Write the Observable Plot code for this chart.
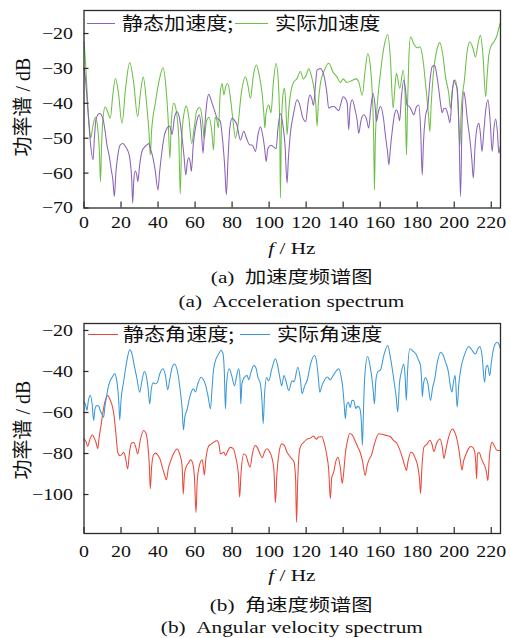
<!DOCTYPE html>
<html>
<head>
<meta charset="utf-8">
<script src="https://cdn.jsdelivr.net/npm/d3@7"></script>
<script src="https://cdn.jsdelivr.net/npm/@observablehq/plot@0.6"></script>
<style>
  html, body { margin: 0; padding: 0; background: #fff; }
  #wrap { position: relative; width: 511px; height: 638px; overflow: hidden; background: #fff;
          font-family: 'Liberation Serif', 'Noto Sans CJK SC', serif; color: #111; }
  .abs { position: absolute; }
  .cap { position: absolute; left: 91.5px; width: 400px; text-align: center; font-size: 17px; line-height: 20px; white-space: nowrap; }
  .cap span { display: inline-block; transform: scaleX(1.25); transform-origin: center; }
  .ylab { position: absolute; width: 140px; height: 24px; line-height: 24px; text-align: center; font-size: 20px; white-space: nowrap;
          transform: rotate(-90deg); transform-origin: center; }
  .leg-line { position: absolute; height: 0; border-top: 1.5px solid; }
  .leg-text { position: absolute; font-size: 18px; line-height: 24px; height: 24px; white-space: nowrap;
              font-family: 'Noto Sans CJK SC', sans-serif; transform: scaleX(1.17); transform-origin: left center; }
</style>
</head>
<body>
<div id="wrap">
  <div id="chartA" class="abs" style="left:0;top:0"></div>
  <div id="chartB" class="abs" style="left:0;top:313px"></div>
</div>
<script>
// ---------- data (frequency Hz, power dB) ----------
const accelActual = [[0,-22.4],[0.8,-28],[1.8,-38],[2.8,-46],[3.6,-50],[4.8,-46.5],[6.2,-44],[7.4,-47],[8.4,-55],[8.9,-62.5],[9.5,-52],[10.3,-44],[11.5,-41],[12.8,-42.5],[14.2,-44.3],[15.5,-38],[17,-32.9],[18.6,-37],[20.5,-45.7],[22.6,-35],[24.7,-28.3],[26.8,-34],[29,-43.8],[30.5,-37],[32,-32.5],[33.8,-40],[35.3,-50],[35.8,-54.8],[36.5,-48],[38.5,-40],[40.8,-33],[42.7,-29.8],[44.2,-35],[45.4,-44],[46.4,-55.7],[47.2,-45],[48.5,-40],[49.8,-42],[51.2,-50],[52,-66],[52.8,-50],[54,-43],[55.3,-40.8],[56.6,-44],[58.2,-51.5],[59.5,-47],[61,-42],[62.5,-41.2],[63.8,-44],[65,-50],[66.2,-45],[67.6,-44],[69,-48],[70,-53.4],[70.8,-44],[71.8,-45],[72.6,-47],[73.6,-37],[74.6,-34.3],[75.6,-37.6],[76.6,-35],[77.6,-34.3],[79,-38],[80.5,-45],[81.8,-50],[83,-47],[85,-37],[87.2,-32.4],[88.6,-35],[89.9,-38.6],[91.5,-32],[93.1,-29],[94.7,-32],[96.2,-37.1],[97.3,-44],[97.7,-47.1],[98.3,-43],[99.8,-40.5],[101,-42.7],[102.3,-34],[103.8,-28.6],[105,-34],[105.7,-45],[106.1,-67.1],[106.6,-48],[107.4,-38],[108.3,-35.7],[109,-40],[109.7,-49],[110.6,-42],[112,-36],[113.3,-33.9],[115,-33],[116.9,-30.9],[118.5,-33],[120,-32],[121.4,-30.1],[122.8,-32],[124,-35],[125.2,-40],[125.9,-46.5],[126.6,-40],[127.8,-34],[129.5,-31],[132.2,-28.5],[134.5,-31],[136.7,-32.5],[138.5,-34],[140,-33],[142,-34],[144.5,-33.5],[147,-33],[148.5,-34],[150.3,-37.7],[151.8,-31],[153.3,-25.7],[154.8,-30],[155.7,-36.7],[156.5,-50],[156.9,-64.8],[157.4,-50],[158.5,-40],[160,-32],[162,-24],[164.1,-20.3],[165.5,-27],[167,-41.4],[168,-35],[168.8,-31.4],[170.6,-35.7],[172.4,-30.5],[173.6,-40],[174.2,-54.8],[174.8,-40],[175.5,-27],[176.4,-21],[178.2,-23],[180,-24.1],[181.5,-23.8],[183,-27],[184.5,-34.3],[186.2,-44],[186.8,-48.1],[187.6,-40],[189,-30],[190.5,-25],[192.2,-22.6],[193.8,-26],[195.3,-32.4],[197,-37],[198,-41.4],[199,-36],[200.7,-33.3],[202.2,-42],[203,-52.4],[203.8,-42],[205.6,-32.9],[207,-25],[208.4,-22.4],[210,-24],[211.5,-26.7],[213,-22.5],[214.2,-20.5],[215.5,-26],[217,-38.1],[217.8,-32],[218.7,-26.2],[220,-23.5],[221.4,-22.4],[222.8,-21],[224.7,-17.1]];

const accelStatic = [[0,-30],[0.8,-33],[1.8,-40],[2.8,-47],[3.6,-52],[4.9,-56.2],[5.6,-50],[6.6,-44.3],[8.4,-42.9],[10.2,-44.3],[11.4,-48],[12.4,-51.9],[13.6,-55],[14.6,-58.6],[15.6,-62],[16.4,-66.7],[17.2,-60],[18.2,-55.2],[19.6,-51.9],[21,-51.5],[22.3,-52.3],[23.6,-53.5],[24.8,-56],[25.8,-62],[26.3,-68.6],[26.9,-62],[27.7,-59.4],[28.5,-60.5],[29.1,-62.4],[30,-58],[31.3,-53.8],[32.8,-52.5],[34,-51.9],[35,-51.5],[35.8,-52.9],[37,-55],[38.4,-59],[40,-64.8],[40.8,-60],[42.1,-53.8],[43.5,-49],[44.9,-47.1],[46.3,-46.5],[47.6,-48.9],[48.9,-44],[50.3,-42.4],[51.5,-44],[52.8,-49],[54,-55],[55,-60.5],[55.8,-57],[56.6,-55.6],[57.4,-57],[58,-59.5],[59,-52],[60.2,-47.1],[61.2,-44.5],[62.3,-43.3],[63.3,-47],[64.3,-54.3],[65.2,-47],[66.3,-40],[67.4,-37.4],[68.3,-38.5],[69.2,-40],[70.5,-42],[71.9,-44.3],[73.5,-45],[74.8,-50],[76,-58],[76.9,-66.2],[77.8,-56],[78.8,-47],[80,-44.3],[81.2,-44.8],[82.5,-46],[84.5,-50.5],[86.3,-48],[87.8,-50],[89.5,-51.9],[91,-52],[92.6,-53.8],[94,-49],[95.3,-46.7],[96.5,-49],[97.6,-53],[98.4,-56.7],[99.3,-53],[101,-52],[102.4,-52.5],[103.8,-53],[104.8,-47],[106.1,-42.9],[107.4,-46],[108.6,-52],[109.7,-62.9],[110.4,-56],[111.4,-49.1],[113.2,-43],[115.1,-39],[116.6,-40.5],[118,-43.8],[119.8,-45.2],[121,-40],[122,-37.6],[123,-38.5],[124,-40.6],[125,-35],[125.9,-30.5],[127.7,-30],[129,-31],[130,-32.9],[131.2,-37],[132.2,-41.4],[133.6,-41],[135,-40.9],[136.3,-41.5],[137.6,-42.1],[138.8,-40],[140,-38.1],[141.2,-38.6],[142.2,-40],[143,-47.6],[143.8,-41],[144.9,-39],[146.5,-42],[147.6,-45],[148.4,-48.6],[149.6,-45],[151.1,-43.3],[152.6,-44.5],[153.8,-47.1],[155,-41],[156.2,-37.1],[157.2,-40.5],[158,-45.2],[159.2,-42],[160.2,-40.9],[161.7,-44],[162.9,-49.5],[164,-54],[164.7,-57.6],[165.5,-53],[166.5,-48],[167.8,-43],[168.8,-41.9],[169.7,-43],[170.5,-45],[171.5,-38],[172.8,-33.3],[173.7,-36],[174.5,-40.6],[175.5,-40.8],[176.4,-41.4],[177.3,-42.5],[178.2,-43.3],[179.6,-41],[180.9,-40.5],[181.9,-48],[182.7,-60.5],[183.4,-51],[184.4,-44],[185.8,-40.6],[187,-33],[188.1,-29.5],[189.5,-29.2],[190.6,-32],[191.7,-36.2],[192.6,-40],[193.5,-42.7],[194.4,-41.5],[195.3,-41.4],[196.5,-43],[197.7,-45.6],[198.8,-38],[199.8,-33.3],[200.8,-34.5],[201.6,-35.7],[202.6,-48],[203.4,-66.7],[204.2,-46],[205.2,-36.7],[206,-39],[207,-44.3],[208.4,-50],[209.5,-56],[210.3,-61.4],[211.3,-52],[212.3,-47],[213.3,-45.7],[214.2,-49],[215,-53.8],[216,-48],[217,-42],[218.2,-39],[219.4,-45],[220.5,-53.8],[221.5,-47],[222.4,-44.5],[223.3,-48],[224.1,-54.3],[225,-52]];

const angActual = [[0,-55],[0.8,-56],[1.6,-59],[2.4,-54],[3.4,-51.7],[4.4,-56],[5.2,-63.9],[6,-58],[7,-56.6],[8,-57],[8.8,-59],[9.8,-61],[10.6,-62.3],[11.3,-57],[12,-53.3],[13,-48],[14.2,-44.4],[15.4,-42.5],[16.6,-41.1],[17.4,-43],[18.2,-48],[18.8,-55],[19.3,-63.6],[20,-54],[21.4,-45],[23.2,-34.6],[24.7,-29.4],[25.8,-31],[26.9,-36],[28.5,-43],[30.1,-50.1],[31.2,-45],[32.6,-40],[33.6,-42],[34.6,-48],[35.5,-55.8],[36.3,-49],[37.3,-45.5],[38.5,-46],[39.5,-45.5],[41,-41],[42.7,-38.7],[44,-42],[45.2,-48.9],[46.3,-44],[47.6,-38],[48.9,-36.3],[50.5,-40],[52,-49.3],[53,-58],[53.7,-68.5],[54.5,-62],[55.6,-59],[57,-53],[58.3,-49.3],[59.2,-48.4],[60.2,-50],[61.5,-46],[63.2,-42.8],[64.5,-44],[65.5,-46],[67,-52],[68.3,-58.2],[69.2,-48],[70,-39],[71.5,-33.5],[72.8,-31.4],[74,-29.6],[75,-31],[75.8,-40],[76.4,-58.2],[77,-46],[78.4,-38.7],[79.8,-42],[81.3,-47],[82.5,-42],[83.6,-38.7],[84.3,-44],[84.7,-55.8],[85.3,-46],[86.5,-43],[88.1,-42],[89,-44],[90.3,-40],[91.7,-37.1],[92.8,-38],[94,-43],[95.3,-46],[96.2,-55],[96.8,-65.5],[97.5,-52],[98.6,-43],[99.8,-44.5],[101.4,-39],[103.4,-33.8],[104.6,-37],[105.8,-43],[106.8,-47],[108,-42],[109.2,-45],[110.6,-49.3],[112.4,-44.5],[113.5,-45],[115.5,-37.9],[116.8,-43],[117.8,-50.8],[119.2,-47],[120.5,-44.5],[122.5,-36],[124.5,-32.2],[125.6,-35],[126.5,-42],[127.4,-50.1],[128.5,-47],[130,-44],[131.5,-42.7],[133,-44],[134.6,-42],[136,-40],[137.6,-38.7],[138.8,-42],[139.8,-48],[140.6,-56.6],[141.2,-63],[141.8,-57],[142.8,-55],[143.8,-57.5],[144.8,-54],[145.7,-54.1],[146.8,-58],[147.8,-57],[149,-58],[149.8,-64],[150.4,-76],[151,-58],[151.7,-42],[153.2,-32.7],[154.5,-37],[155.7,-44.5],[156.3,-50],[156.9,-55.8],[157.7,-44],[158.8,-40],[160.2,-39.2],[162,-32],[164.1,-27.3],[165.5,-33],[166.9,-41],[167.8,-46.8],[168.6,-52],[169.5,-59.8],[170.4,-46],[171.5,-40],[172.8,-36.3],[173.5,-43],[174.1,-54.1],[174.8,-40],[176,-28.9],[177.6,-30],[179.3,-31.5],[180.5,-34],[181.8,-37.1],[182.4,-45],[182.8,-52.3],[183.4,-46],[184.5,-43],[185.8,-46],[187.2,-54.1],[188.3,-48],[189.3,-44.4],[191,-35],[192.6,-30.6],[194,-32],[195.3,-35.4],[196.8,-40],[198,-47.6],[198.8,-50],[199.6,-45.2],[200.5,-42],[201.6,-57.4],[202.5,-46],[203.5,-39],[205.5,-32],[207.9,-27.8],[209.5,-29.5],[211.5,-31.5],[212.7,-29],[213.8,-27.8],[215,-32],[216.4,-45.2],[217.2,-38],[218,-37],[219.2,-42],[220,-36],[221.5,-28],[223.2,-25.7],[224,-26.5],[225,-28.9]];

const angStatic = [[0,-72.8],[1,-74],[2,-76.5],[3.2,-73],[4.6,-71],[5.6,-72.5],[6.6,-75],[7.4,-77.7],[8.2,-72],[9.2,-66.3],[10.4,-59],[11.5,-54.1],[12.8,-51.7],[14,-53.5],[15.4,-57.3],[16.3,-62],[16.9,-67.2],[17.6,-74],[18.2,-79.4],[19.3,-81],[20.4,-80.5],[21.4,-79.4],[22.4,-82],[23.6,-87.5],[24.5,-80],[25.6,-75],[26.9,-74.6],[28,-77],[29,-80.2],[30.5,-73],[32.2,-68.8],[33.4,-70],[34.5,-76],[35.3,-86],[35.8,-97.2],[36.5,-87],[37.6,-80.5],[38.8,-79.8],[40,-81],[41.2,-83],[42.1,-86],[43.4,-90],[44.5,-92.8],[45.6,-87],[46.8,-83.7],[48.4,-80],[50.3,-77.8],[51.6,-80],[53,-86],[53.6,-99.8],[54.3,-90],[55.4,-86],[56.5,-84.6],[57.6,-83],[58.8,-85],[59.7,-92],[60.5,-108.8],[61.2,-93],[62.3,-86],[63.8,-83],[64.4,-86],[65,-90.5],[65.8,-83],[67.3,-76.5],[68.5,-75.5],[70,-74.5],[71.9,-73.8],[73,-76],[73.7,-80.2],[75.5,-79.4],[76.5,-81],[77.5,-79],[79,-77],[80.5,-77.5],[82,-82],[83.4,-90],[84.1,-101.3],[84.8,-90],[86.3,-80.2],[87.5,-81],[88.5,-84],[89.7,-86.7],[91,-80],[92.4,-76.1],[93.6,-77],[95,-80],[96.3,-82],[97.6,-79],[98.9,-77.7],[100.2,-79],[101.5,-82],[102.6,-88],[103.4,-104],[104.2,-90],[105.3,-80],[106.8,-75.3],[108.2,-76],[109.5,-79],[110.8,-81],[112.2,-82.5],[113.4,-84],[114.3,-92],[114.8,-113.5],[115.4,-95],[116.2,-80],[117,-76.5],[118.7,-74.5],[120.5,-73],[122.3,-72.5],[124,-71.5],[125.5,-73],[126.7,-72],[128.5,-71.8],[129.8,-75],[131,-80],[132.2,-88],[133.1,-102],[133.8,-92],[134.9,-89],[136,-84],[137.2,-81.8],[138.5,-87],[139.5,-94.5],[140.2,-90],[141.2,-80],[142.5,-73],[143.6,-70.2],[145,-71],[146.5,-74],[148,-77],[149.4,-80],[150.5,-84],[151.9,-90.7],[152.9,-86],[154,-83],[155.3,-80.8],[157,-75],[159.2,-70.4],[161,-70.6],[163.5,-71.2],[165.5,-71.8],[167.3,-73.7],[169,-75],[170.5,-78],[172,-82],[173.3,-86],[174.2,-88.3],[175,-84],[176.7,-79.4],[177.8,-80],[178.8,-82],[180,-85],[181.2,-92],[181.8,-99.5],[182.6,-86],[183.6,-77],[185.2,-75.5],[186.8,-73.5],[188,-75.5],[189,-79],[190.5,-75],[192.2,-72.9],[193.6,-77],[194.4,-82.4],[195.5,-78],[197,-72],[198.9,-68],[200,-69],[201.2,-72],[202.5,-78],[203.4,-84],[204.2,-88],[205,-84],[206.5,-80],[207.8,-77.5],[208.8,-76.6],[210,-77],[211,-79],[211.6,-84],[212.1,-92.3],[212.6,-80],[213.5,-79.5],[214.5,-82],[215.5,-84.3],[216.5,-86],[217.4,-89],[218.2,-93.2],[218.9,-83],[219.6,-76.9],[220.5,-74.5],[221.5,-76],[223.2,-78.5],[225,-78.5]];

const xTicks = [0, 20, 40, 60, 80, 100, 120, 140, 160, 180, 200, 220];
const yTicksA = [-70, -60, -50, -40, -30, -20];
const yTicksB = [-100, -80, -60, -40, -20];
const legendA = ["静态加速度;", "实际加速度"];
const legendB = ["静态角速度;", "实际角速度"];
const yLabel = "功率谱 / dB";
const captionsA = ["(a)\u00a0\u00a0加速度频谱图", "(a)\u00a0\u00a0Acceleration spectrum"];
const captionsB = ["(b)\u00a0\u00a0角速度频谱图", "(b)\u00a0\u00a0Angular velocity spectrum"];
const colors = {purple: "#8a62b8", green: "#6bbf45", red: "#e9483a", blue: "#3a98d8"};

const FONT = "'Liberation Serif', serif";
const INK = "#2a2a2a";

function stretchText(svg, s) {
  svg.querySelectorAll("text").forEach(t => {
    const tr = t.getAttribute("transform") || "";
    const x = +(t.getAttribute("x") || 0);
    t.setAttribute("transform", `${tr} translate(${x},0) scale(${s},1) translate(${-x},0)`);
  });
}

function panel({series, yDomain, yTicks, height, marginBottom, xPad}) {
  const svg = Plot.plot({
    width: 511,
    height,
    marginLeft: 83.5,
    marginRight: 11,
    marginTop: 10,
    marginBottom,
    style: {fontFamily: FONT, fontSize: "17px", background: "#fff", color: "#111", overflow: "visible"},
    x: {domain: [0, 225], axis: null},
    y: {domain: yDomain, axis: null},
    marks: [
      ...series.map(s => Plot.line(s.data, {x: d => d[0], y: d => d[1], stroke: s.color, strokeWidth: 1.05, curve: "monotone-x"})),
      Plot.frame({stroke: INK, strokeWidth: 1.3}),
      Plot.axisX(xTicks, {tickSize: 6, dy: -6, fill: "none", stroke: INK, strokeWidth: 1.2}),
      Plot.axisX(xTicks, {tickSize: 0, tickPadding: xPad, label: null, fill: "#111"}),
      Plot.axisY(yTicks, {tickSize: 5, dx: 5, fill: "none", stroke: INK, strokeWidth: 1.2}),
      Plot.axisY(yTicks, {tickSize: 0, tickPadding: 11, label: null, fill: "#111"})
    ]
  });
  stretchText(svg, 1.17);
  return svg;
}

document.getElementById("chartA").appendChild(panel({
  series: [{data: accelActual, color: colors.green}, {data: accelStatic, color: colors.purple}],
  yDomain: [-70, -13.4], yTicks: yTicksA, height: 235, marginBottom: 27.5, xPad: 8
}));
document.getElementById("chartB").appendChild(panel({
  series: [{data: angStatic, color: colors.red}, {data: angActual, color: colors.blue}],
  yDomain: [-119, -16.6], yTicks: yTicksB, height: 247, marginBottom: 27, xPad: 11.5
}));

const wrap = document.getElementById("wrap");
function add(html, cls, style) {
  const el = document.createElement("div");
  el.className = cls;
  el.setAttribute("style", style);
  el.innerHTML = html;
  wrap.appendChild(el);
  return el;
}
// legends
function legend(labels, cols, cy, pos) {
  add("", "leg-line", `left:${pos[0]}px;top:${cy}px;width:${pos[1]}px;border-color:${cols[0]}`);
  add(labels[0], "leg-text", `left:${pos[2]}px;top:${cy - 13}px`);
  add("", "leg-line", `left:${pos[3]}px;top:${cy}px;width:${pos[4]}px;border-color:${cols[1]}`);
  add(labels[1], "leg-text", `left:${pos[5]}px;top:${cy - 13}px`);
}
legend(legendA, [colors.purple, colors.green], 22.5, [87, 28, 122, 235, 33, 275]);
legend(legendB, [colors.red, colors.blue], 334, [88, 30, 123, 240, 30, 277]);

// y labels
add(yLabel, "ylab", `left:${23 - 70}px;top:${107 - 12}px`);
add(yLabel, "ylab", `left:${23 - 70}px;top:${430 - 12}px`);

// x labels and captions
add('<span><i>f</i> / Hz</span>', "cap", "top:239px");
add(`<span>${captionsA[0]}</span>`, "cap", "top:268px");
add(`<span>${captionsA[1]}</span>`, "cap", "top:292px");
add('<span><i>f</i> / Hz</span>', "cap", "top:566px");
add(`<span>${captionsB[0]}</span>`, "cap", "top:596px");
add(`<span>${captionsB[1]}</span>`, "cap", "top:618px");
</script>
</body>
</html>
